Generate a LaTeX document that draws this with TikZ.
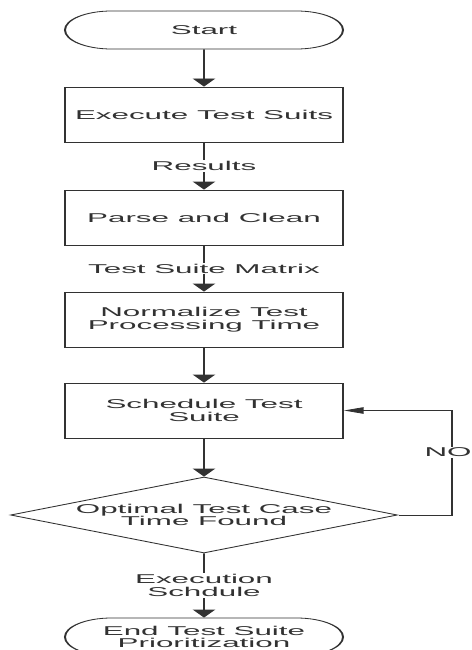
\documentclass[tikz,border=0pt]{standalone}
\usepackage{fontspec}
\newfontfamily\flowfont{Liberation Sans}
\usepackage{xcolor}
\usepackage{tikz}
\usetikzlibrary{shapes.geometric, shapes.misc, arrows.meta}
\definecolor{ink}{RGB}{50,50,50}

\begin{document}
\begin{tikzpicture}[x=1pt, y=-1pt,
  txt/.style={font=\flowfont\fontsize{12.8}{12.7}\selectfont, text=ink, align=center},
  term/.style={txt, draw=ink, line width=0.8pt, rounded rectangle, minimum width=113.5pt, minimum height=38pt, inner sep=0pt},
  proc/.style={txt, draw=ink, line width=0.8pt, rectangle, minimum width=113.5pt, minimum height=55pt, inner sep=0pt},
  decis/.style={txt, draw=ink, line width=0.8pt, diamond, aspect=2.08, minimum width=158pt, minimum height=76pt, inner sep=0pt},
  lbl/.style={txt, fill=white, inner sep=1pt},
  flow/.style={draw=ink, line width=0.8pt, -{Triangle[length=8pt, width=9pt]}},
  back/.style={draw=ink, line width=0.8pt, -{Triangle[length=8pt, width=6.5pt]}}]
  \useasboundingbox (0,0) rectangle (471,650);
  \fill[white] (0,0) rectangle (471,650);
  \clip (0,0) rectangle (471,650);
  \begin{scope}[transform canvas={xscale=2.45}, x=0.40816pt]
    \node[term] (start) at (204,30) {Start};
    \node[proc] (exec) at (204,114.5) {Execute Test Suits};
    \node[proc] (parse) at (204,217.5) {Parse and Clean};
    \node[proc] (norm) at (204,319.5) {Normalize Test\\Processing Time};
    \node[proc] (sched) at (204,410.5) {Schedule Test\\Suite};
    \node[decis] (opt) at (204,515) {Optimal Test Case\\Time Found};
    \node[term] (finish) at (204,637) {End Test Suite\\Prioritization};
    \coordinate (noturn) at (452,515);

    \draw[flow] (start) -- (exec);
    \draw[flow] (exec) -- node[lbl] {Results} (parse);
    \draw[flow] (parse) -- node[lbl] {Test Suite Matrix} (norm);
    \draw[flow] (norm) -- (sched);
    \draw[flow] (sched) -- (opt);
    \draw[flow] (opt) -- node[lbl] {Execution\\Schdule} (finish);
    \draw[back] (opt.east) -- (noturn) |- node[lbl, pos=0.3, xshift=-1.6pt] {NO} (sched.east);
  \end{scope}
\end{tikzpicture}
\end{document}
